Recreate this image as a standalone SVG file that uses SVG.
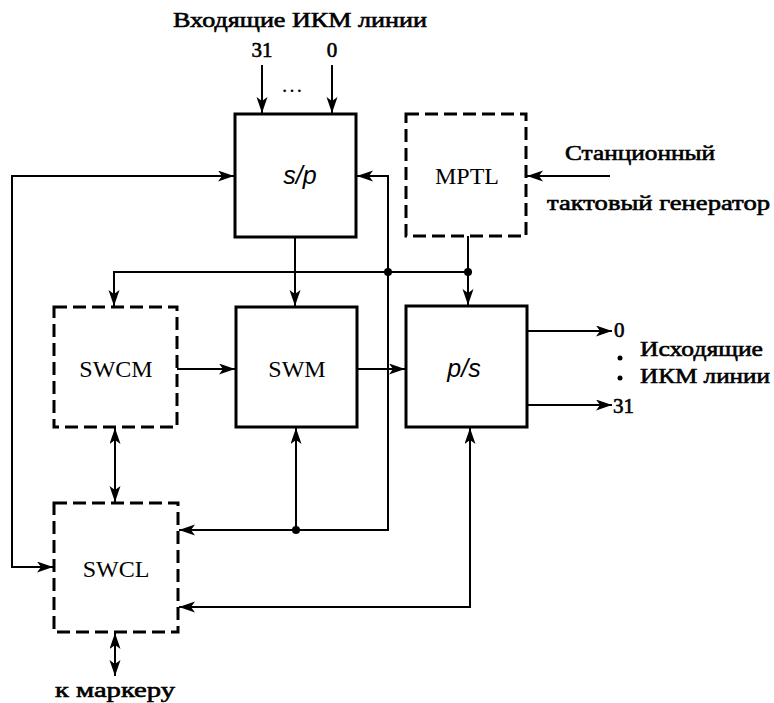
<svg xmlns="http://www.w3.org/2000/svg" width="774" height="703" viewBox="0 0 774 703">
<style>
.solid{fill:none;stroke:#000;stroke-width:3}
.dash{fill:none;stroke:#000;stroke-width:3;stroke-dasharray:13,6}
.ln{fill:none;stroke:#000;stroke-width:2}
.t{font-family:"Liberation Serif",serif;fill:#000}
.lbl{font-family:"Liberation Serif",serif;font-size:24px;text-anchor:middle;fill:#000}
.it{font-family:"Liberation Sans",sans-serif;font-style:italic;font-size:25px;text-anchor:middle;fill:#000}
.cap{font-family:"Liberation Serif",serif;font-size:21px;fill:#000;stroke:#000;stroke-width:0.6}
</style>
<defs>
<marker id="a" markerUnits="userSpaceOnUse" markerWidth="17" markerHeight="12" refX="16" refY="5.5" orient="auto-start-reverse">
<path d="M0,0 L16,5.5 L0,11 L4,5.5 z" fill="#000"/>
</marker>
</defs>
<rect width="774" height="703" fill="#fff"/>

<g id="connectors">
<line class="ln" x1="262" y1="65" x2="262" y2="113" marker-end="url(#a)"/>
<line class="ln" x1="332" y1="65" x2="332" y2="113" marker-end="url(#a)"/>
<path class="ln" d="M234,176 H12 V567 H53" marker-start="url(#a)" marker-end="url(#a)"/>
<path class="ln" d="M357,176 H388 V530 H179" marker-start="url(#a)" marker-end="url(#a)"/>
<path class="ln" d="M468,236 V272 H114 V306" marker-end="url(#a)"/>
<line class="ln" x1="468" y1="272" x2="468" y2="305" marker-end="url(#a)"/>
<line class="ln" x1="295" y1="237" x2="295" y2="306" marker-end="url(#a)"/>
<line class="ln" x1="610" y1="176" x2="527" y2="176" marker-end="url(#a)"/>
<line class="ln" x1="177" y1="369" x2="235" y2="369" marker-end="url(#a)"/>
<line class="ln" x1="357" y1="369" x2="405" y2="369" marker-end="url(#a)"/>
<line class="ln" x1="527" y1="331" x2="612" y2="331" marker-end="url(#a)"/>
<line class="ln" x1="527" y1="405" x2="612" y2="405" marker-end="url(#a)"/>
<line class="ln" x1="296" y1="530" x2="296" y2="428" marker-end="url(#a)"/>
<path class="ln" d="M179,607 H470 V428" marker-start="url(#a)" marker-end="url(#a)"/>
<line class="ln" x1="115" y1="428" x2="115" y2="502" marker-start="url(#a)" marker-end="url(#a)"/>
<line class="ln" x1="115" y1="633" x2="115" y2="676" marker-start="url(#a)" marker-end="url(#a)"/>
<circle cx="388" cy="272" r="4"/>
<circle cx="468" cy="272" r="4"/>
<circle cx="296" cy="530" r="4"/>
</g>

<g id="sp"><rect class="solid" x="235" y="114" width="121" height="123"/><text class="it" x="300" y="184">s/p</text></g>
<g id="mptl"><rect class="dash" x="406" y="114" width="120" height="122"/><text class="lbl" x="467" y="184">MPTL</text></g>
<g id="swcm"><rect class="dash" x="54" y="307" width="123" height="120"/><text class="lbl" x="116" y="377">SWCM</text></g>
<g id="swm"><rect class="solid" x="236" y="307" width="121" height="120"/><text class="lbl" x="297" y="377">SWM</text></g>
<g id="ps"><rect class="solid" x="406" y="306" width="121" height="121"/><text class="it" x="464" y="377">p/s</text></g>
<g id="swcl"><rect class="dash" x="54" y="503" width="124" height="129"/><text class="lbl" x="116" y="577">SWCL</text></g>

<g id="labels">
<text class="cap" x="173" y="27" textLength="254" lengthAdjust="spacingAndGlyphs">Входящие ИКМ линии</text>
<text class="cap" x="262" y="57" text-anchor="middle">31</text>
<text class="cap" x="332" y="57" text-anchor="middle">0</text>
<text class="t" x="292" y="92" font-size="22" text-anchor="middle">…</text>
<text class="cap" x="565" y="160" textLength="150" lengthAdjust="spacingAndGlyphs">Станционный</text>
<text class="cap" x="547" y="210" textLength="223" lengthAdjust="spacingAndGlyphs">тактовый генератор</text>
<text class="cap" x="614" y="337">0</text>
<text class="cap" x="613" y="413">31</text>
<circle cx="620" cy="358" r="2.5"/>
<circle cx="620" cy="378" r="2.5"/>
<text class="cap" x="640" y="356" textLength="123" lengthAdjust="spacingAndGlyphs">Исходящие</text>
<text class="cap" x="640" y="383" textLength="130" lengthAdjust="spacingAndGlyphs">ИКМ линии</text>
<text class="cap" x="55" y="697" textLength="120" lengthAdjust="spacingAndGlyphs">к маркеру</text>
</g>
</svg>
